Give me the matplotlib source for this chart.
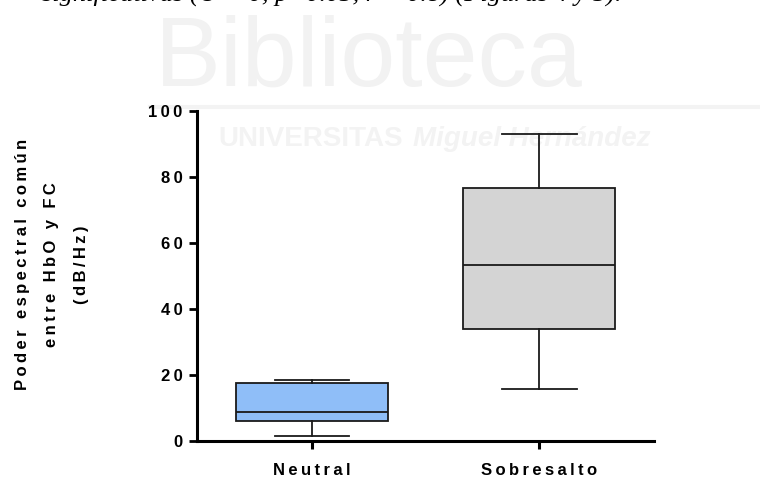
import numpy as np
import matplotlib.pyplot as plt

plt.rcParams['font.family'] = ['Liberation Sans', 'DejaVu Sans']

groups = ['Neutral', 'Sobresalto']
whislo = [1.6, 15.8]
q1 = [6.2, 33.9]
med = [8.9, 53.4]
q3 = [17.5, 76.8]
whishi = [18.5, 93.1]
colors = ['#8fbef8', '#d4d4d4']
yticks = [0, 20, 40, 60, 80, 100]
ylabel = ['Poder espectral común', 'entre HbO y FC', '(dB/Hz)']


def spaced(s):
    # GraphPad style wide letter spacing, done with thin spaces
    return '\u2009'.join(s)


fig = plt.figure(figsize=(7.6, 4.79), dpi=100)

# faint watermark of the scanned page
fig.text(0.204, 0.822, 'Biblioteca', fontsize=71, color='#f2f2f2', zorder=-5)
fig.add_artist(plt.Line2D([0.197, 1.0], [0.776, 0.776], color='#f3f3f3', lw=3, zorder=-5))
fig.text(0.287, 0.695, 'UNIVERSITAS', fontsize=20, fontweight='bold', color='#f3f3f3', zorder=-5)
fig.text(0.543, 0.695, 'Miguel Hernández', fontsize=20, fontweight='bold', style='italic',
         color='#f3f3f3', zorder=-5)
# cut-off line of the document text above the chart
fig.text(0.055, 0.998, 'significativas (U = 0, p<0.05, r = 0.8) (Figuras 4 y 5).', fontsize=19,
         family='Liberation Serif', style='italic', va='baseline', color='black')

ax = fig.add_axes([0.259, 0.0793, 0.602, 0.689])
ax.patch.set_alpha(0)

stats = []
for i in range(len(groups)):
    stats.append(dict(whislo=whislo[i], q1=q1[i], med=med[i], q3=q3[i], whishi=whishi[i],
                      fliers=[], label=spaced(groups[i])))

bp = ax.bxp(stats, positions=[1, 2], widths=0.67, patch_artist=True, showfliers=False,
            boxprops=dict(linewidth=1.3, edgecolor='#1a1a1a'),
            medianprops=dict(color='#1a1a1a', linewidth=1.3),
            whiskerprops=dict(color='#1a1a1a', linewidth=1.3),
            capprops=dict(color='#1a1a1a', linewidth=1.3), capwidths=0.33)
for patch, c in zip(bp['boxes'], colors):
    patch.set_facecolor(c)

ax.set_xlim(0.493, 2.507)
ax.set_ylim(0, 100)
ax.set_yticks(yticks)
ax.set_yticklabels([spaced(str(t)) for t in yticks])
ax.spines['top'].set_visible(False)
ax.spines['right'].set_visible(False)
ax.spines['left'].set_linewidth(2.2)
ax.spines['bottom'].set_linewidth(2.2)
ax.tick_params(axis='y', length=5.5, width=2.0, pad=5)
ax.tick_params(axis='x', length=5.5, width=2.2, pad=10)
for lab in ax.get_xticklabels() + ax.get_yticklabels():
    lab.set_fontsize(12)
    lab.set_fontweight('bold')

fig.text(0.068, 0.447, '\n'.join(spaced(s) for s in ylabel), rotation=90,
         ha='center', va='center', multialignment='center', fontsize=12, fontweight='bold',
         linespacing=2.2)

fig.savefig('out.png', dpi=100)
